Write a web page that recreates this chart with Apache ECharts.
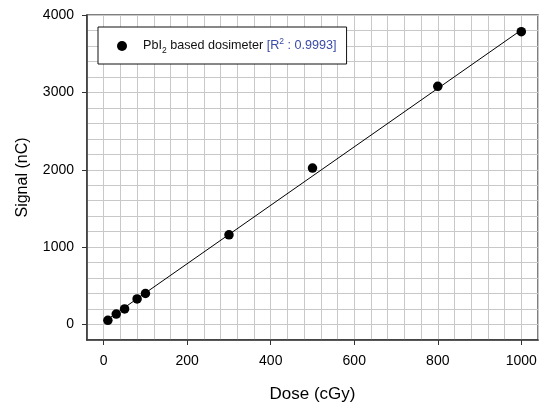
<!DOCTYPE html>
<html>
<head>
<meta charset="utf-8">
<script src="https://cdn.jsdelivr.net/npm/echarts@6/dist/echarts.min.js"></script>
<style>html,body{margin:0;padding:0;background:#fff}#c{width:542px;height:403px}</style>
</head>
<body>
<div id="c"></div>
<script>
// Data
var doseX = [10, 30, 50, 80, 100, 300, 500, 800, 1000];
var signalY = [55, 135, 202, 331, 401, 1159, 2022, 3078, 3785];
var fitX = [10, 1000];
var fitY = [69, 3806];
var xTickLabels = [0, 200, 400, 600, 800, 1000];
var yTickLabels = [0, 1000, 2000, 3000, 4000];

var FONT = 'Liberation Sans, Arial, sans-serif';
var pts = doseX.map(function (x, i) { return [x, signalY[i]]; });
var fit = fitX.map(function (x, i) { return [x, fitY[i]]; });
var plain = function (v) { return String(v); };

var chart = echarts.init(document.getElementById('c'), null, {renderer: 'canvas'});
chart.setOption({
  animation: false,
  backgroundColor: '#fff',
  grid: {left: 87, right: 4, top: 15, bottom: 63, outerBoundsMode: 'none', containLabel: false,
         show: true, borderColor: '#555', borderWidth: 1.5, backgroundColor: 'transparent'},
  legend: {
    left: 98, top: 27,
    orient: 'horizontal',
    data: ['PbI2 based dosimeter'],
    backgroundColor: '#fff',
    borderColor: '#111',
    borderWidth: 1,
    borderRadius: 0,
    padding: [10, 10, 9, 19],
    itemWidth: 10, itemHeight: 10,
    formatter: function () {
      return '{g|}{t|PbI}{sub|2}{t| based dosimeter }{b|[R}{sup|2}{b| : 0.9993]}';
    },
    textStyle: {
      fontFamily: FONT, fontSize: 12.6, color: '#111',
      rich: {
        g: {width: 11, lineHeight: 18},
        t: {fontFamily: FONT, fontSize: 12.6, color: '#111', lineHeight: 18},
        b: {fontFamily: FONT, fontSize: 12.6, color: '#3a4ba8', lineHeight: 18},
        sub: {fontFamily: FONT, fontSize: 8.5, color: '#111', lineHeight: 8, verticalAlign: 'bottom'},
        sup: {fontFamily: FONT, fontSize: 8.5, color: '#3a4ba8', lineHeight: 8, verticalAlign: 'top'}
      }
    }
  },
  xAxis: [{
    type: 'value', min: -40, max: 1040, interval: 40,
    axisLine: {show: false, onZero: false},
    axisTick: {show: false},
    axisLabel: {show: false},
    splitLine: {show: true, lineStyle: {color: '#c8c8c8', width: 1}}
  }, {
    type: 'value', min: -40, max: 1040, position: 'bottom',
    axisLine: {show: true, onZero: false, lineStyle: {color: '#333', width: 1.5}},
    axisTick: {show: true, inside: false, length: 5, customValues: xTickLabels, lineStyle: {color: '#333'}},
    axisLabel: {show: true, customValues: xTickLabels, formatter: plain, margin: 14, fontFamily: FONT, fontSize: 14, color: '#000'},
    splitLine: {show: false},
    name: 'Dose (cGy)', nameLocation: 'middle', nameGap: 46,
    nameTextStyle: {fontFamily: FONT, fontSize: 17, color: '#000'}
  }],
  yAxis: [{
    type: 'value', min: -200, max: 4000, interval: 200,
    axisLine: {show: false, onZero: false},
    axisTick: {show: false},
    axisLabel: {show: false},
    splitLine: {show: true, lineStyle: {color: '#c8c8c8', width: 1}}
  }, {
    type: 'value', min: -200, max: 4000, position: 'left',
    axisLine: {show: true, onZero: false, lineStyle: {color: '#333', width: 1.5}},
    axisTick: {show: true, inside: false, length: 5, customValues: yTickLabels, lineStyle: {color: '#333'}},
    axisLabel: {show: true, customValues: yTickLabels, formatter: plain, margin: 13, fontFamily: FONT, fontSize: 14, color: '#000'},
    splitLine: {show: false},
    name: 'Signal (nC)', nameLocation: 'middle', nameGap: 56,
    nameTextStyle: {fontFamily: FONT, fontSize: 16, color: '#000'}
  }],
  series: [{
    name: 'fit', type: 'line', data: fit, xAxisIndex: 0, yAxisIndex: 0,
    showSymbol: false, symbol: 'none',
    lineStyle: {color: '#000', width: 1}, z: 2, silent: true
  }, {
    name: 'PbI2 based dosimeter', type: 'scatter', data: pts, xAxisIndex: 0, yAxisIndex: 0,
    symbol: 'circle', symbolSize: 9.5,
    itemStyle: {color: '#000', opacity: 1}, z: 3
  }]
});
</script>
</body>
</html>
